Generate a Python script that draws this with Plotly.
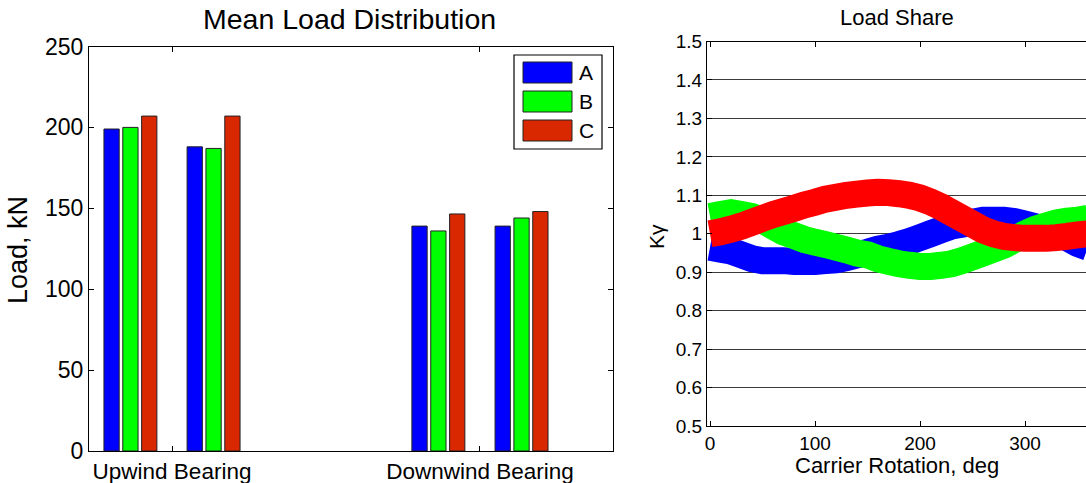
import plotly.graph_objects as go

# ---------------- data ----------------
categories = ["Upwind Bearing", "Downwind Bearing"]
series_names = ["A", "B", "C"]
# two bar sets per bearing: [Upwind set1, Upwind set2, Downwind set1, Downwind set2]
load_A = [199, 188, 139, 139]
load_B = [200, 187, 136, 144]
load_C = [207, 207, 146.5, 148]

rotation_deg = [0, 10, 20, 30, 40, 50, 60, 70, 80, 90, 100, 110, 120, 130, 140, 150, 160, 170, 180,
                190, 200, 210, 220, 230, 240, 250, 260, 270, 280, 290, 300, 310, 320, 330, 340, 350, 360]
share_A = [0.965, 0.96, 0.955, 0.945, 0.935, 0.93, 0.93, 0.93, 0.928, 0.928, 0.928, 0.93, 0.932, 0.938,
           0.945, 0.952, 0.96, 0.965, 0.972, 0.98, 0.99, 1.0, 1.01, 1.02, 1.025, 1.03, 1.035, 1.035,
           1.035, 1.032, 1.025, 1.018, 1.01, 1.0, 0.99, 0.975, 0.965]
share_B = [1.045, 1.05, 1.055, 1.05, 1.045, 1.035, 1.02, 1.005, 0.995, 0.985, 0.978, 0.972, 0.965, 0.958,
           0.95, 0.945, 0.935, 0.928, 0.922, 0.918, 0.915, 0.915, 0.918, 0.922, 0.93, 0.94, 0.95, 0.96,
           0.97, 0.985, 1.0, 1.012, 1.02, 1.028, 1.033, 1.035, 1.04]
share_C = [1.0, 1.005, 1.012, 1.02, 1.03, 1.04, 1.05, 1.058, 1.066, 1.075, 1.082, 1.09, 1.095, 1.1,
           1.103, 1.106, 1.108, 1.107, 1.104, 1.1, 1.093, 1.083, 1.07, 1.055, 1.04, 1.025, 1.01, 1.0,
           0.993, 0.99, 0.988, 0.988, 0.988, 0.99, 0.993, 0.997, 1.0]

left_ticks = [0, 50, 100, 150, 200, 250]
right_yticks = [0.5, 0.6, 0.7, 0.8, 0.9, 1.0, 1.1, 1.2, 1.3, 1.4, 1.5]
right_yticklabels = ["0.5", "0.6", "0.7", "0.8", "0.9", "1", "1.1", "1.2", "1.3", "1.4", "1.5"]
right_xticks = [0, 100, 200, 300]

# ---------------- styling ----------------
W, H = 1086, 483
FONT = "Liberation Sans, Arial, Helvetica, sans-serif"
bar_colors = ["#0000FF", "#00FF00", "#D92800"]
line_colors = ["#0000FF", "#00FF00", "#FF0000"]


def px(x):
    return x / W


def py(y):
    return 1 - y / H


# bar x positions: each bearing index with two sub-sets
sub_offset = 0.135
bar_x = []
for i in range(len(categories)):
    bar_x += [i + 1 - sub_offset, i + 1 + sub_offset]

fig = go.Figure()

for name, vals, col in zip(series_names, [load_A, load_B, load_C], bar_colors):
    fig.add_trace(go.Bar(x=bar_x, y=vals, name=name, marker=dict(color=col, line=dict(color="#222", width=1)),
                         xaxis="x", yaxis="y", showlegend=False))

for name, vals, col in zip(series_names, [share_A, share_B, share_C], line_colors):
    fig.add_trace(go.Scatter(x=rotation_deg, y=vals, mode="lines", name=name,
                             line=dict(color=col, width=27, shape="linear", simplify=False),
                             xaxis="x2", yaxis="y2", showlegend=False))

axis_common = dict(showline=True, linecolor="black", linewidth=1, ticks="inside", ticklen=5,
                   tickcolor="black", zeroline=False, automargin=False)

fig.update_layout(
    width=W, height=H,
    margin=dict(l=0, r=0, t=0, b=0),
    paper_bgcolor="white", plot_bgcolor="white",
    barmode="group", bargap=0.32, bargroupgap=0.19,
    font=dict(family=FONT, color="black"),
    xaxis=dict(domain=[px(89), px(613)], range=[0.7305, 2.432], tickvals=[1, 2], ticktext=categories,
               mirror="allticks", showgrid=False, tickfont=dict(size=22.5, family=FONT, color="black"),
               **axis_common),
    yaxis=dict(domain=[py(451), py(46.5)], range=[0, 250], tickvals=left_ticks, mirror="allticks",
               showgrid=False, tickfont=dict(size=23, family=FONT, color="black"), **axis_common),
    xaxis2=dict(domain=[px(707), 1.0], range=[-2.86, 358.1], tickvals=right_xticks, mirror="ticks",
                showgrid=False, anchor="y2", tickfont=dict(size=19, family=FONT, color="black"),
                **axis_common),
    yaxis2=dict(domain=[py(426), py(41.5)], range=[0.5, 1.5], tickvals=right_yticks,
                ticktext=right_yticklabels, anchor="x2", showgrid=True, gridcolor="#3a3a3a",
                gridwidth=1, mirror=False, tickfont=dict(size=19, family=FONT, color="black"),
                **axis_common),
)

# titles and axis labels
annots = [
    dict(text="Mean Load Distribution", x=px(349), y=py(19), size=28.5, angle=0),
    dict(text="Load Share", x=px(897), y=py(17), size=22, angle=0),
    dict(text="Load, kN", x=px(18), y=py(250), size=27, angle=-90),
    dict(text="Kγ", x=px(657), y=py(237), size=21, angle=-90),
    dict(text="Carrier Rotation, deg", x=px(897), y=py(465), size=22, angle=0),
]
for a in annots:
    fig.add_annotation(text=a["text"], x=a["x"], y=a["y"], xref="paper", yref="paper",
                       xanchor="center", yanchor="middle", showarrow=False, textangle=a["angle"],
                       font=dict(size=a["size"], family=FONT, color="black"))

# legend box (drawn like the original MATLAB legend)
fig.add_shape(type="rect", xref="paper", yref="paper", x0=px(514), x1=px(602), y0=py(149), y1=py(55),
              line=dict(color="black", width=1.2), fillcolor="white")
for i, (name, col) in enumerate(zip(series_names, bar_colors)):
    top = 62 + 29 * i
    fig.add_shape(type="rect", xref="paper", yref="paper", x0=px(523), x1=px(572), y0=py(top + 21),
                  y1=py(top), line=dict(color="#222", width=1), fillcolor=col)
    fig.add_annotation(text=name, x=px(577), y=py(top + 10.5), xref="paper", yref="paper",
                       xanchor="left", yanchor="middle", showarrow=False,
                       font=dict(size=21, family=FONT, color="black"))

fig.write_html("out.html")
